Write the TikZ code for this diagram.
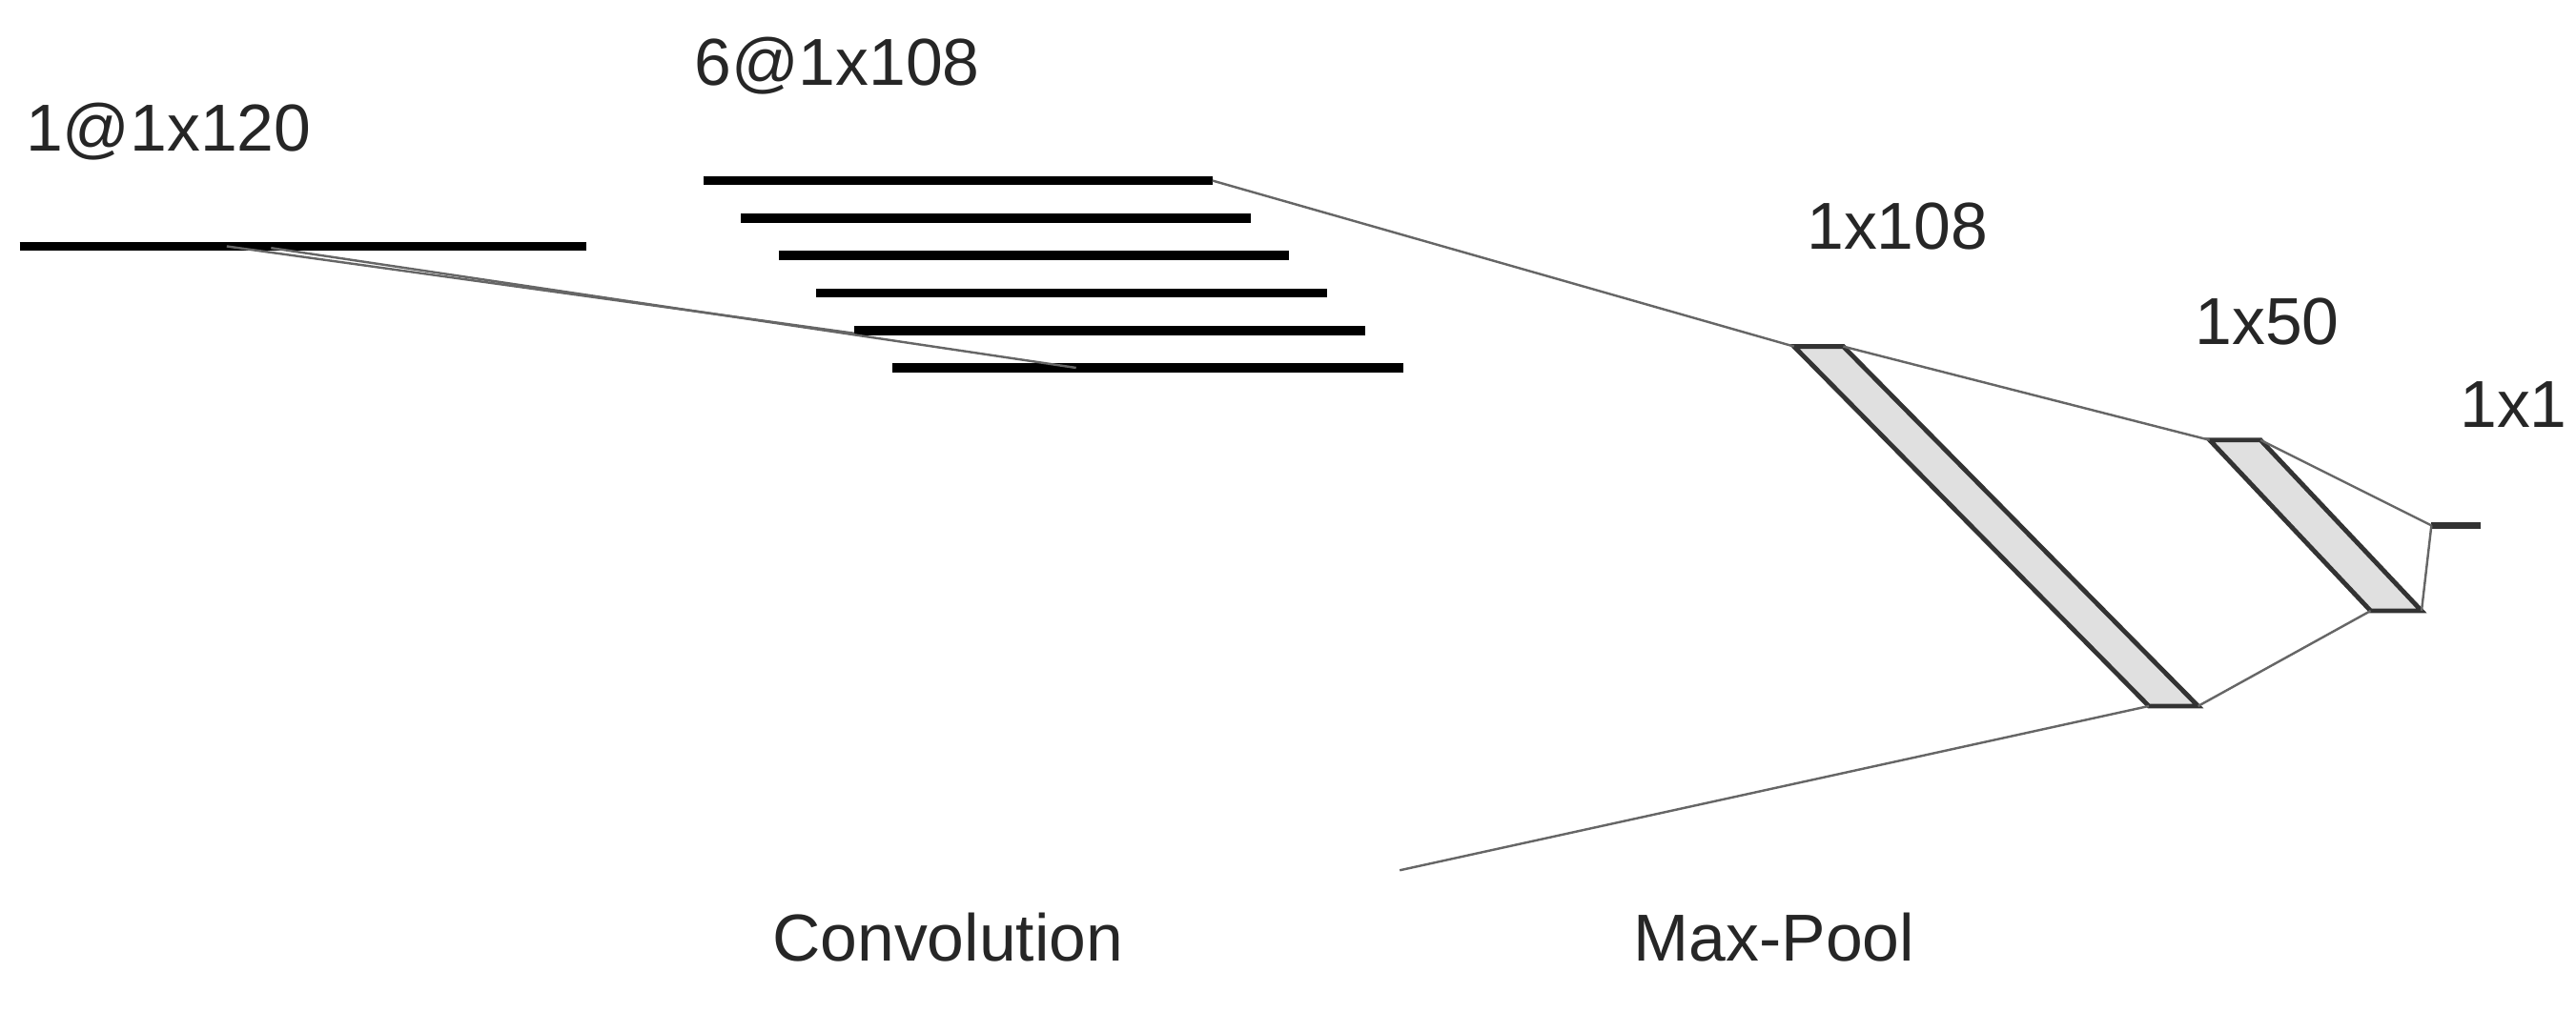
\documentclass[tikz,border=0pt]{standalone}
\usepackage{fontspec}
\setmainfont{Liberation Sans}
\begin{document}
\begin{tikzpicture}[x=0.01cm,y=-0.01cm,
  fm/.style={line width=1.6pt,black},
  thin/.style={line width=0.4pt,gray!80!black},
  pool/.style={draw=black!80,fill=black!12,line width=0.8pt},
  lab/.style={font=\fontsize{11.5}{13}\selectfont,text=black!85,inner sep=0pt}]
\useasboundingbox (0,0) rectangle (1568,616);
% input
\draw[fm] (12,150) -- (357,150);
\node[lab,anchor=base west] (l1) at (15,92) {1@1x120};
% feature maps
\foreach \i in {0,...,5}{
  \coordinate (a\i) at ({428+23*\i},{110+22.8*\i});
  \coordinate (b\i) at ({738+23.2*\i},{110+22.8*\i});
  \draw[fm] (a\i) -- (b\i);
}
\node[lab,anchor=base west] (l2) at (422,52) {6@1x108};
\coordinate (i1) at (138,150);
\coordinate (i2) at (165,151);
\coordinate (t1) at (520,203);
\coordinate (t2) at (655,224);
\draw[thin] (i1) -- (t1);
\draw[thin] (i2) -- (t2);
% pool layer
\coordinate (p1) at (1092,211); \coordinate (p2) at (1122,211);
\coordinate (p3) at (1338,430); \coordinate (p4) at (1308,430);
\draw[pool] (p1) -- (p2) -- (p3) -- (p4) -- cycle;
\draw[thin] (b0) -- (p1);
\coordinate (f0) at (852,530);
\draw[thin] (p4) -- (f0);
\node[lab,anchor=base] (l3) at (1155,152) {1x108};
% dense 50
\coordinate (q1) at (1345,268); \coordinate (q2) at (1376,268);
\coordinate (q3) at (1474,372); \coordinate (q4) at (1443,372);
\draw[pool] (q1) -- (q2) -- (q3) -- (q4) -- cycle;
\draw[thin] (p2) -- (q1);
\draw[thin] (p3) -- (q4);
\node[lab,anchor=base] (l4) at (1380,210) {1x50};
% output
\coordinate (o1) at (1480,320); \coordinate (o2) at (1510,320);
\draw[line width=1.2pt,black!80] (o1) -- (o2);
\draw[thin] (q2) -- (o1);
\draw[thin] (q3) -- (o1);
\node[lab,anchor=base] (l5) at (1530,260) {1x1};
\node[lab,anchor=base] (c) at (577,585) {Convolution};
\node[lab,anchor=base] (m) at (1080,585) {Max-Pool};
\end{tikzpicture}
\end{document}
